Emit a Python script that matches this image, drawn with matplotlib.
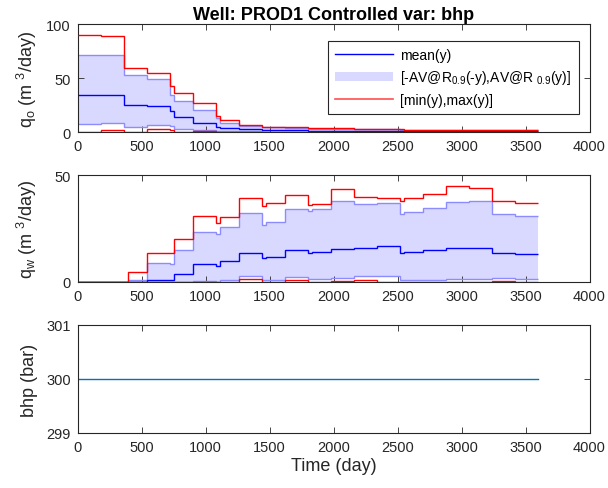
import matplotlib
matplotlib.use("Agg")
import matplotlib.pyplot as plt
from matplotlib.lines import Line2D
from matplotlib.patches import Patch
import numpy as np

plt.rcParams['font.family'] = ['Liberation Sans', 'DejaVu Sans']
plt.rcParams['mathtext.fontset'] = 'custom'
plt.rcParams['mathtext.rm'] = 'Liberation Sans'
plt.rcParams['mathtext.it'] = 'Liberation Sans:italic'

# Report times (days): step edges of the piecewise-constant rates
edges = [0, 180, 360, 390, 540, 720, 750, 900, 1080, 1110, 1260, 1440, 1470,
         1620, 1800, 1830, 1980, 2160, 2340, 2520, 2550, 2700, 2880, 3060,
         3240, 3420, 3600]

# Oil rate statistics per report step (m^3/day)
qo_max = [90, 89, 60, 60, 55, 43, 36, 27, 15, 11, 7, 5.2, 5.2, 5.0, 4.2, 4.0,
          4.0, 3.2, 3.0, 2.6, 2.5, 2.5, 2.4, 2.4, 2.2, 2.2]
qo_up = [72, 72, 53, 53, 49.5, 35, 29, 21, 13, 9, 6, 4.5, 4.5, 3.8, 3.5, 3.3,
         3.0, 2.8, 2.6, 2.5, 2.4, 2.3, 2.2, 2.1, 2.0, 1.9]
qo_mean = [34.5, 35, 25.3, 25.3, 24.4, 19.5, 14.5, 8.5, 5, 3.8, 3.0, 2.2, 2.2,
           2.0, 1.6, 1.6, 1.5, 1.4, 1.3, 1.3, 1.2, 1.2, 1.2, 1.1, 1.1, 1.0]
qo_low = [7.5, 8.5, 5.2, 5.2, 6.5, 5.5, 3.5, 1.8, 1.2, 1.0, 0.8, 0.6, 0.6, 0.5,
          0.5, 0.5, 0.4, 0.4, 0.4, 0.3, 0.3, 0.3, 0.3, 0.3, 0.3, 0.3]
qo_min = [0.5, 2.5, 0.4, 0.4, 3.0, 2.0, 0.5, 1.3, 0.6, 0.5, 0.3, 0.2, 0.2, 0.2,
          0.1, 0.1, 0.1, 0.1, 0.1, 0.1, 0.1, 0.1, 0.1, 0.1, 0.1, 0.1]

# Water rate statistics per report step (m^3/day)
qw_max = [0, 0, 0, 4.6, 13.8, 13.8, 20.3, 31, 27.7, 30.5, 39.2, 35.8, 37.2,
          40.6, 36, 36.6, 43.7, 39.8, 39.5, 38.1, 39.2, 41.4, 44.8, 44, 38.1,
          36.9]
qw_up = [0, 0, 0, 1.0, 9.0, 8.6, 15, 23.5, 22.7, 25.7, 32.3, 26.6, 28.3, 34.2,
         33.4, 34.3, 38, 36.5, 37.2, 32, 33, 34.5, 37.3, 38, 32, 31]
qw_mean = [0, 0, 0, 0.2, 0.8, 0.8, 3.9, 8.3, 7.4, 9.7, 13.4, 11.1, 11.8, 14.9,
           13.5, 14, 15.4, 16.1, 16.9, 13.4, 14, 15, 16.1, 16.1, 13.5, 13.1]
qw_low = [0, 0, 0, 0, 0, 0, 0, 0.3, 0.2, 0.8, 3.0, 1.0, 1.0, 2.2, 1.2, 1.2,
          2.0, 3.0, 2.8, 1.0, 1.0, 1.0, 1.5, 1.5, 1.8, 1.5]
qw_min = [0, 0, 0, 0, 0, 0, 0, 0, 0, 0.1, 1.3, 0.2, 0.2, 0.8, 0.2, 0.2, 0.5,
          1.0, 0, 0, 0, 0, 0, 0, 0.3, 0.2]

# Bottom-hole pressure (bar) at the report times
bhp = [300, 300, 300, 300, 300, 300, 300, 300, 300, 300, 300, 300, 300, 300,
       300, 300, 300, 300, 300, 300, 300, 300, 300, 300, 300, 300, 300]

band_face = (0.85, 0.85, 1.0)
band_edge = (0.55, 0.55, 1.0)
red = (1.0, 0.0, 0.0)
blue = (0.0, 0.0, 1.0)
axis_col = '#262626'

fig = plt.figure(figsize=(6.08, 4.89), dpi=100)
W, H = 608.0, 489.0
left, right = 77.7, 589.5


def make_axes(top, bottom):
    return fig.add_axes([left / W, 1 - bottom / H, (right - left) / W,
                         (bottom - top) / H])


def style(ax):
    for s in ax.spines.values():
        s.set_color(axis_col)
        s.set_linewidth(0.8)
    ax.tick_params(direction='in', top=True, right=True, length=4, width=0.6,
                   colors=axis_col, labelsize=10.5, pad=5)
    ax.set_xlim(0, 4000)
    ax.set_xticks(np.arange(0, 4001, 500))


def draw_stats(ax, vmax, vup, vmean, vlow, vmin):
    ax.stairs(vup, edges, baseline=vlow, fill=True, color=band_face,
              linewidth=0, zorder=1)
    ax.stairs(vup, edges, baseline=None, color=band_edge, linewidth=1.0,
              zorder=2)
    ax.stairs(vlow, edges, baseline=None, color=band_edge, linewidth=1.0,
              zorder=2)
    ax.stairs(vmean, edges, baseline=None, color=blue, linewidth=1.0,
              zorder=3)
    ax.stairs(vmax, edges, baseline=None, color=red, linewidth=1.0, zorder=4)
    ax.stairs(vmin, edges, baseline=None, color=red, linewidth=1.0, zorder=4)


label_size = 13

# Oil rate
ax1 = make_axes(25.3, 133.3)
draw_stats(ax1, qo_max, qo_up, qo_mean, qo_low, qo_min)
style(ax1)
ax1.set_ylim(0, 100)
ax1.set_yticks([0, 50, 100])
ax1.set_ylabel(r'q$_{\mathrm{o}}$ (m $^{3}$/day)', fontsize=label_size,
               labelpad=5, color=axis_col)
ax1.set_title('Well: PROD1 Controlled var: bhp', fontsize=13,
              fontweight='bold', pad=4, color='black')

handles = [Line2D([], [], color=blue, linewidth=1.0),
           Patch(facecolor=band_face, edgecolor='none'),
           Line2D([], [], color=(1.0, 0.3, 0.3), linewidth=1.2)]
labels = ['mean(y)',
          r'[-AV@R$_{0.9}$(-y),AV@R $_{0.9}$(y)]',
          '[min(y),max(y)]']
leg = ax1.legend(handles, labels, loc='upper right',
                 bbox_to_anchor=(1 - 11 / (right - left), 1 - 17 / 108.0),
                 frameon=True, fancybox=False, framealpha=1,
                 edgecolor=axis_col, fontsize=10, handlelength=4.2,
                 handletextpad=0.5, labelspacing=0.45, borderpad=0.5,
                 borderaxespad=0)
leg.get_frame().set_linewidth(0.8)

# Water rate
ax2 = make_axes(176.3, 283.0)
draw_stats(ax2, qw_max, qw_up, qw_mean, qw_low, qw_min)
style(ax2)
ax2.set_ylim(0, 50)
ax2.set_yticks([0, 50])
ax2.set_ylabel(r'q$_{\mathrm{w}}$ (m $^{3}$/day)', fontsize=label_size,
               labelpad=11, color=axis_col)

# Bottom-hole pressure
ax3 = make_axes(326.0, 434.0)
ax3.plot(edges, bhp, color=(0.0, 0.447, 0.741), linewidth=1.0)
style(ax3)
ax3.set_ylim(299, 301)
ax3.set_yticks([299, 300, 301])
ax3.set_ylabel('bhp (bar)', fontsize=label_size, labelpad=6, color=axis_col)
ax3.set_xlabel('Time (day)', fontsize=label_size, labelpad=2, color=axis_col)

fig.savefig('out.png', dpi=100)
